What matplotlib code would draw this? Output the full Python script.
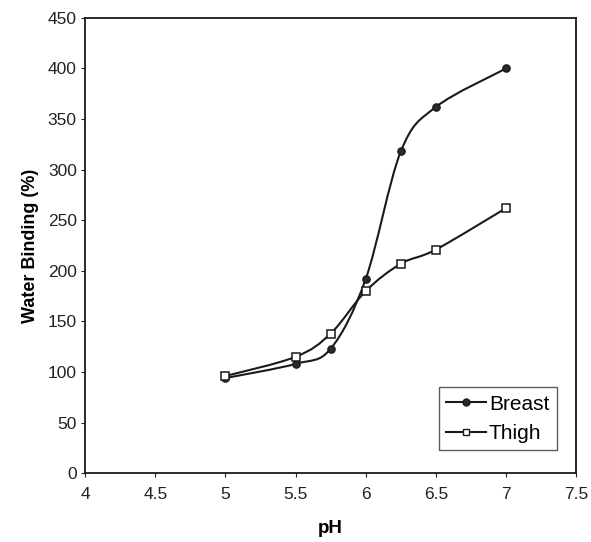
import numpy as np
import matplotlib.pyplot as plt
from matplotlib.path import Path
from matplotlib.patches import PathPatch
from matplotlib.lines import Line2D

plt.rcParams['font.family'] = ['Liberation Sans', 'DejaVu Sans']

ph = [5.0, 5.5, 5.75, 6.0, 6.25, 6.5, 7.0]
breast = [94, 108, 123, 192, 318, 362, 400]
thigh = [96, 115, 138, 180, 207, 221, 262]


def smooth_path(x, y):
    # excel-like smoothed line: cubic bezier through the points
    p = np.column_stack([x, y]).astype(float)
    pts = np.vstack([p[0], p, p[-1]])
    verts = [p[0]]
    codes = [Path.MOVETO]
    for i in range(1, len(pts) - 2):
        c1 = pts[i] + (pts[i + 1] - pts[i - 1]) / 6
        c2 = pts[i + 1] - (pts[i + 2] - pts[i]) / 6
        verts += [c1, c2, pts[i + 1]]
        codes += [Path.CURVE4] * 3
    return Path(verts, codes)


fig = plt.figure(figsize=(5.91, 5.42), dpi=100)
ax = fig.add_axes([0.144, 0.127, 0.831, 0.840])

for yy in (breast, thigh):
    ax.add_patch(PathPatch(smooth_path(ph, yy), fill=False, lw=1.5, ec='#1a1a1a'))

ax.plot(ph, breast, ls='none', marker='o', ms=5.2, mfc='#2a2a2a', mec='#1a1a1a')
ax.plot(ph, thigh, ls='none', marker='s', ms=5.2, mfc='white', mec='#1a1a1a', mew=1.1)

ax.set_xlim(4, 7.5)
ax.set_ylim(0, 450)
ax.set_xticks(np.arange(4, 7.51, 0.5))
ax.set_xticklabels(['4', '4.5', '5', '5.5', '6', '6.5', '7', '7.5'])
ax.set_yticks(np.arange(0, 451, 50))
ax.tick_params(direction='out', length=3, labelsize=12.5, colors='#222222')
ax.tick_params(axis='y', pad=3)
ax.tick_params(axis='x', pad=7)
for s in ax.spines.values():
    s.set_linewidth(1.3)
    s.set_color('#1a1a1a')

ax.set_xlabel('pH', fontsize=13.5, fontweight='bold', labelpad=13)
ax.set_ylabel('Water Binding (%)', fontsize=13, fontweight='bold', labelpad=6)

handles = [
    Line2D([], [], color='#1a1a1a', lw=1.5, marker='o', ms=5, mfc='#2a2a2a', mec='#1a1a1a'),
    Line2D([], [], color='#1a1a1a', lw=1.5, marker='s', ms=5, mfc='white', mec='#1a1a1a'),
]
leg = ax.legend(handles, ['Breast', 'Thigh'], loc='lower right', bbox_to_anchor=(0.96, 0.05),
                fontsize=15, frameon=True, fancybox=False, edgecolor='#333333',
                handlelength=1.9, handletextpad=0.15, borderpad=0.35, labelspacing=0.5,
                borderaxespad=0)
leg.get_frame().set_linewidth(1.0)

fig.savefig('out.png', dpi=100)
